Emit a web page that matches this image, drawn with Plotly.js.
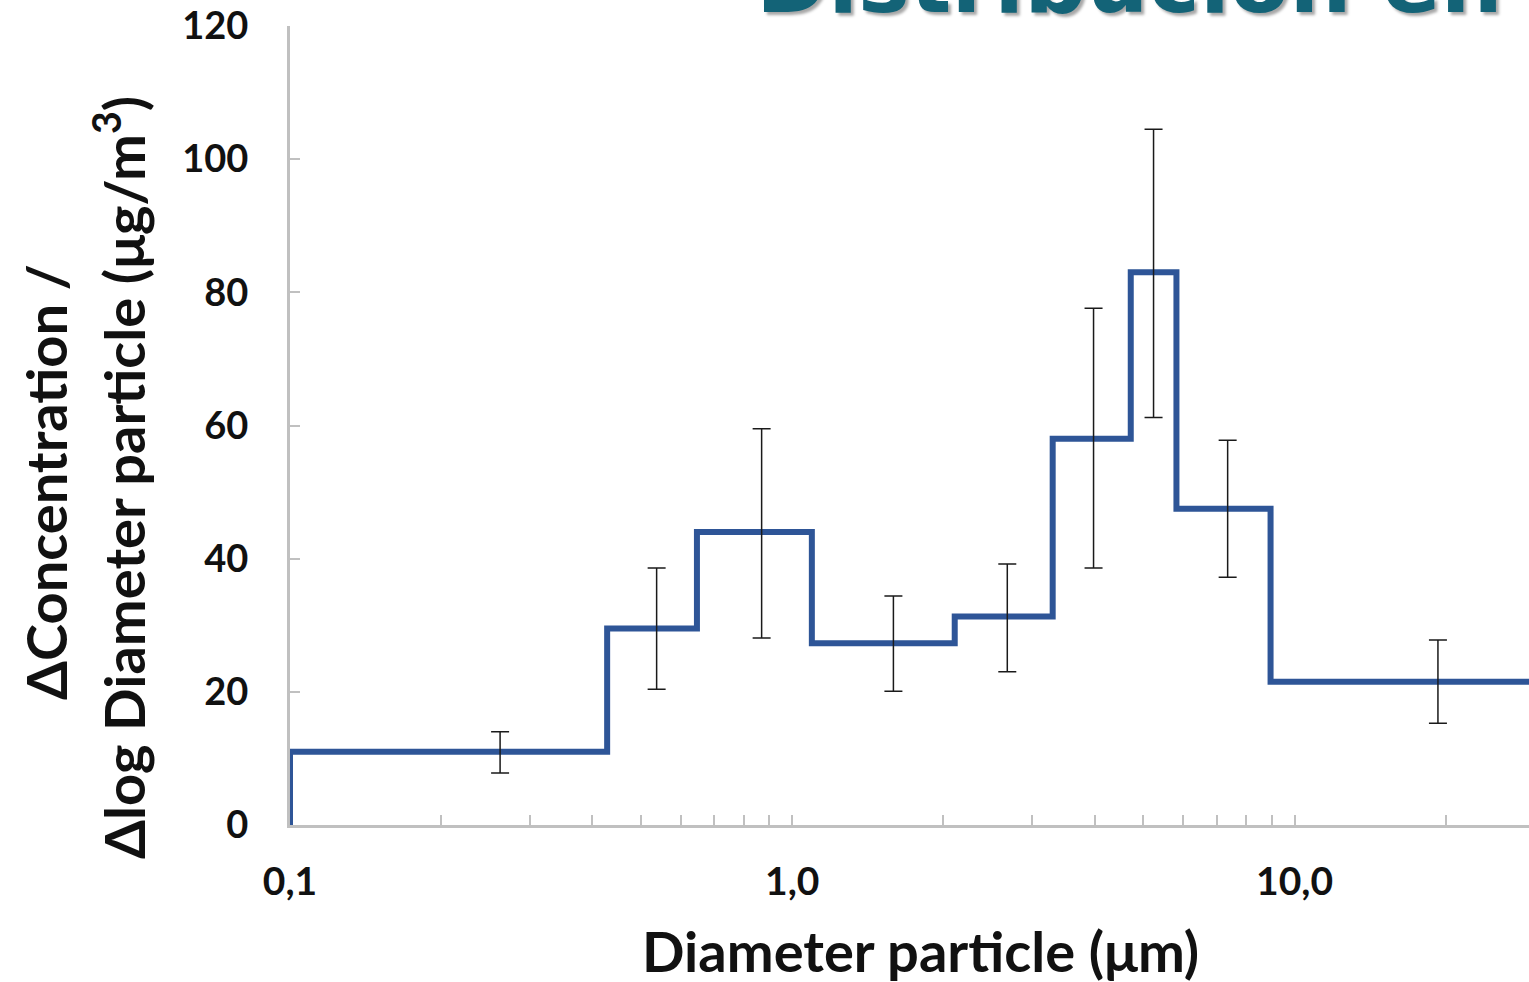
<!DOCTYPE html>
<html>
<head>
<meta charset="utf-8">
<script src="https://cdn.plot.ly/plotly-3.0.1.min.js"></script>
<style>html,body{margin:0;padding:0;background:#fff;}#chart{width:1529px;height:982px;}</style>
</head>
<body>
<div id="chart"></div>
<script>
// Bin edges (µm) of the size classes and the value of each class
const binEdges = [0.1, 0.428, 0.646, 1.094, 2.106, 3.30, 4.72, 5.82, 8.96, 40];
const concentration = [11, 29.5, 44, 27.3, 31.3, 58, 83, 47.5, 21.5];

// Error bar positions (µm) and extents
const errX = [0.262, 0.537, 0.869, 1.59, 2.68, 3.98, 5.24, 7.36, 19.3];
const errPlus = [3.0, 9.1, 15.5, 7.1, 7.9, 19.6, 21.5, 10.3, 6.3];
const errMinus = [3.2, 9.1, 15.9, 7.2, 8.3, 19.4, 21.8, 10.3, 6.2];

const xTickVals = [0.1,0.2,0.3,0.4,0.5,0.6,0.7,0.8,0.9,1,2,3,4,5,6,7,8,9,10,20];
const xTickText = ['0,1','','','','','','','','','1,0','','','','','','','','','10,0',''];
const yTickVals = [0,20,40,60,80,100,120];

const titleText = 'Distribución en';
const xTitle = 'Diameter particle (μm)';
const yTitle1 = 'ΔConcentration /';
const yTitle2 = 'Δlog Diameter particle (μg/m<sup>3</sup>)';

// step line: start at 0 on the first edge
const stepX = [binEdges[0]].concat(binEdges);
const stepY = [0].concat(concentration).concat([concentration[concentration.length-1]]);

const font = 'Lato, "Open Sans", sans-serif';

const traces = [
  {
    x: stepX, y: stepY, type: 'scatter', mode: 'lines',
    line: {shape: 'hv', color: '#2E5597', width: 6},
    hoverinfo: 'skip', showlegend: false
  },
  {
    x: errX, y: concentration, type: 'scatter', mode: 'markers',
    marker: {opacity: 0, size: 1},
    error_y: {type: 'data', symmetric: false, array: errPlus, arrayminus: errMinus,
              color: '#1a1a1a', thickness: 1.5, width: 9},
    showlegend: false
  }
];

const layout = {
  width: 1529, height: 982,
  margin: {l: 290, r: 0, t: 26, b: 157},
  paper_bgcolor: '#ffffff', plot_bgcolor: '#ffffff',
  showlegend: false,
  xaxis: {
    type: 'log', range: [-1, Math.log10(29.3)],
    tickmode: 'array', tickvals: xTickVals, ticktext: xTickText,
    ticks: 'inside', ticklen: 10, tickwidth: 2, tickcolor: '#c0c0c0',
    showline: true, linecolor: '#c0c0c0', linewidth: 3,
    showgrid: false, zeroline: false,
    tickfont: {family: font, size: 39, color: '#111', weight: 'bold'},
    ticklabelstandoff: 20
  },
  yaxis: {
    range: [0, 120],
    tickmode: 'array', tickvals: yTickVals,
    ticks: 'inside', ticklen: 10, tickwidth: 2, tickcolor: '#c0c0c0',
    showline: true, linecolor: '#c0c0c0', linewidth: 3,
    showgrid: false, zeroline: false,
    tickfont: {family: font, size: 38, color: '#111', weight: 'bold'},
    ticklabelstandoff: 31
  },
  annotations: [
    {text: titleText, xref: 'paper', yref: 'paper', x: 1, xshift: -24, y: 1, yshift: -9,
     xanchor: 'right', yanchor: 'bottom', showarrow: false,
     font: {family: '"DejaVu Sans", Verdana, sans-serif', size: 87, color: '#136377', weight: 'bold',
            shadow: '3px 3px 3px rgba(0,0,0,0.35)'}},
    {text: xTitle, xref: 'paper', yref: 'paper', x: (920-290)/1239, y: 0, yshift: -125,
     xanchor: 'center', yanchor: 'middle', showarrow: false,
     font: {family: font, size: 56, color: '#111', weight: 'bold'}},
    {text: yTitle1, xref: 'paper', yref: 'paper', x: 0, xshift: -245, y: (825-482)/799,
     xanchor: 'center', yanchor: 'middle', textangle: -90, showarrow: false,
     font: {family: font, size: 56, color: '#111', weight: 'bold'}},
    {text: yTitle2, xref: 'paper', yref: 'paper', x: 0, xshift: -170, y: (825-478)/799,
     xanchor: 'center', yanchor: 'middle', textangle: -90, showarrow: false,
     font: {family: font, size: 56, color: '#111', weight: 'bold'}}
  ]
};

Plotly.newPlot('chart', traces, layout, {displayModeBar: false, staticPlot: true});
</script>
</body>
</html>
